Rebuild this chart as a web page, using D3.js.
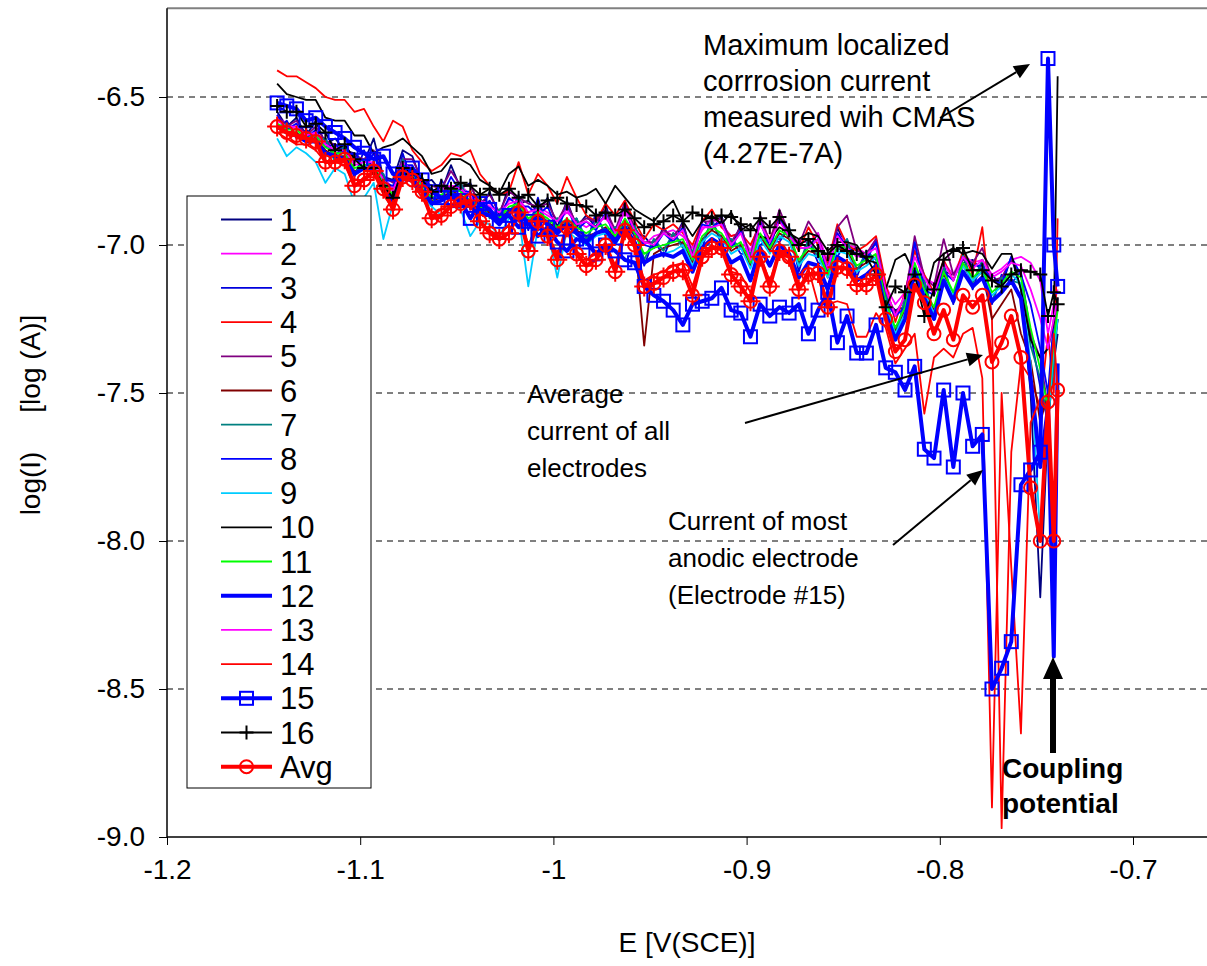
<!DOCTYPE html>
<html><head><meta charset="utf-8">
<script src="https://cdn.jsdelivr.net/npm/d3@7/dist/d3.min.js"></script>
<style>body{margin:0;background:#fff;} svg{display:block;font-family:"Liberation Sans",Arial,sans-serif;}</style>
</head><body><svg id="c" width="1207" height="966"></svg>
<script>
// ---------- DATA ----------
const E = [-1.143,-1.138,-1.133,-1.128,-1.123,-1.118,-1.113,-1.108,-1.103,-1.098,
-1.093,-1.088,-1.083,-1.078,-1.073,-1.068,-1.063,-1.058,-1.053,-1.048,
-1.043,-1.038,-1.033,-1.028,-1.023,-1.018,-1.013,-1.008,-1.003,-0.998,
-0.993,-0.988,-0.983,-0.978,-0.973,-0.968,-0.963,-0.958,-0.953,-0.948,
-0.943,-0.938,-0.933,-0.928,-0.923,-0.918,-0.913,-0.908,-0.903,-0.898,
-0.893,-0.888,-0.883,-0.878,-0.873,-0.868,-0.863,-0.858,-0.853,-0.848,
-0.843,-0.838,-0.833,-0.828,-0.823,-0.818,-0.813,-0.808,-0.803,-0.798,
-0.793,-0.788,-0.783,-0.778,-0.773,-0.768,-0.763,-0.758,-0.753,-0.748,
-0.744,-0.741,-0.739];

const s1 = [-6.55,-6.60,-6.57,-6.63,-6.58,-6.66,-6.64,-6.68,-6.69,-6.72,
-6.64,-6.77,-6.78,-6.68,-6.70,-6.79,-6.78,-6.82,-6.73,-6.81,
-6.79,-6.88,-6.82,-6.90,-6.80,-6.86,-6.85,-6.89,-6.84,-6.94,
-6.85,-6.94,-6.90,-6.94,-6.86,-6.98,-6.85,-6.96,-6.97,-7.01,
-6.94,-6.99,-6.92,-7.05,-6.91,-6.95,-6.90,-7.01,-6.93,-7.06,
-6.90,-7.01,-6.90,-6.98,-6.99,-7.01,-6.96,-7.10,-6.94,-7.02,
-7.01,-7.05,-6.98,-7.19,-7.22,-7.21,-7.00,-7.15,-7.15,-7.09,
-7.10,-7.06,-7.05,-7.09,-7.10,-7.14,-7.04,-7.15,-7.50,-8.19,
-7.60,-7.40,-7.30];
const s2 = [-6.57,-6.59,-6.61,-6.62,-6.63,-6.65,-6.67,-6.69,-6.72,-6.71,
-6.73,-6.77,-6.81,-6.73,-6.74,-6.78,-6.82,-6.81,-6.80,-6.80,
-6.83,-6.85,-6.86,-6.89,-6.85,-6.84,-6.89,-6.87,-6.89,-6.92,
-6.89,-6.92,-6.94,-6.92,-6.91,-6.95,-6.89,-6.94,-7.00,-6.97,
-6.96,-6.95,-6.97,-7.01,-6.95,-6.91,-6.93,-6.97,-6.96,-7.02,
-6.91,-6.99,-6.92,-6.96,-6.99,-6.99,-6.96,-7.06,-6.96,-7.00,
-7.01,-7.03,-6.98,-7.14,-7.20,-7.16,-7.01,-7.11,-7.13,-7.06,
-7.10,-7.03,-7.06,-7.05,-7.10,-7.08,-7.05,-7.04,-7.06,-7.12,
-7.30,-7.20,-7.15];
const s3 = [-6.61,-6.58,-6.64,-6.61,-6.64,-6.64,-6.70,-6.66,-6.77,-6.68,
-6.75,-6.76,-6.86,-6.69,-6.79,-6.77,-6.87,-6.78,-6.83,-6.79,
-6.88,-6.84,-6.90,-6.88,-6.91,-6.83,-6.95,-6.84,-6.95,-6.91,
-6.95,-6.91,-7.00,-6.89,-6.97,-6.94,-6.95,-6.93,-7.07,-6.98,
-7.04,-6.96,-7.00,-7.02,-7.01,-6.91,-7.00,-6.98,-7.03,-7.03,
-7.00,-6.98,-6.99,-6.94,-7.09,-6.98,-7.06,-7.07,-7.04,-6.98,
-7.11,-7.02,-7.07,-7.16,-7.32,-7.18,-7.10,-7.12,-7.25,-7.06,
-7.20,-7.03,-7.15,-7.05,-7.20,-7.10,-7.13,-7.09,-7.30,-7.48,
-7.60,-7.35,-7.25];
const s4 = [-6.41,-6.43,-6.43,-6.45,-6.47,-6.50,-6.51,-6.51,-6.55,-6.54,
-6.60,-6.65,-6.58,-6.60,-6.68,-6.72,-6.75,-6.73,-6.69,-6.70,
-6.68,-6.76,-6.80,-6.83,-6.82,-6.72,-6.83,-6.76,-6.80,-6.86,
-6.77,-6.84,-6.90,-6.92,-6.86,-6.90,-6.85,-6.92,-6.98,-6.93,
-6.95,-6.93,-6.96,-7.00,-6.92,-6.88,-6.94,-6.97,-6.96,-7.00,
-6.93,-6.98,-6.90,-6.96,-7.02,-6.94,-7.00,-7.06,-6.93,-7.00,
-7.02,-7.00,-6.97,-7.13,-7.26,-7.16,-7.02,-7.10,-7.16,-7.05,
-7.12,-7.02,-7.10,-6.94,-7.25,-8.97,-7.70,-7.40,-7.45,-7.55,
-7.30,-7.50,-6.91];
const s5 = [-6.56,-6.60,-6.58,-6.63,-6.60,-6.65,-6.66,-6.67,-6.70,-6.71,
-6.68,-6.77,-6.79,-6.71,-6.71,-6.78,-6.80,-6.81,-6.75,-6.80,
-6.80,-6.86,-6.83,-6.89,-6.82,-6.84,-6.86,-6.87,-6.86,-6.92,
-6.86,-6.93,-6.91,-6.92,-6.88,-6.95,-6.86,-6.94,-6.99,-6.99,
-6.95,-6.97,-6.93,-7.03,-6.92,-6.92,-6.91,-6.99,-6.94,-7.04,
-6.90,-6.99,-6.88,-6.96,-7.00,-6.92,-6.97,-7.08,-6.94,-6.90,
-7.02,-7.03,-6.98,-7.16,-7.23,-7.18,-6.97,-7.11,-7.14,-6.98,
-7.10,-7.05,-7.06,-7.01,-7.12,-7.11,-7.05,-7.10,-7.30,-7.38,
-7.55,-7.30,-7.20];
const s6 = [-6.60,-6.62,-6.62,-6.65,-6.64,-6.68,-6.70,-6.70,-6.75,-6.74,
-6.74,-6.80,-6.84,-6.74,-6.77,-6.81,-6.85,-6.84,-6.82,-6.83,
-6.86,-6.88,-6.89,-6.92,-6.88,-6.87,-6.92,-6.90,-6.92,-6.95,
-6.92,-6.95,-6.97,-6.96,-6.94,-6.98,-6.92,-6.97,-7.34,-7.03,
-7.01,-7.00,-6.99,-7.06,-6.98,-6.95,-6.97,-7.02,-7.00,-7.07,
-6.97,-7.02,-6.96,-6.98,-7.06,-7.02,-7.03,-7.11,-7.01,-7.02,
-7.08,-7.06,-7.04,-7.20,-7.29,-7.22,-7.07,-7.16,-7.22,-7.10,
-7.17,-7.07,-7.12,-7.09,-7.25,-7.20,-7.15,-7.30,-7.39,-7.60,
-7.50,-7.35,-7.25];
const s7 = [-6.60,-6.59,-6.63,-6.62,-6.65,-6.64,-6.72,-6.66,-6.76,-6.71,
-6.75,-6.76,-6.85,-6.71,-6.78,-6.77,-6.86,-6.81,-6.83,-6.79,
-6.87,-6.84,-6.91,-6.88,-6.89,-6.84,-6.93,-6.87,-6.93,-6.91,
-6.93,-6.91,-6.98,-6.92,-6.95,-6.94,-6.94,-6.93,-7.05,-6.98,
-7.02,-6.96,-7.01,-7.02,-6.99,-6.92,-6.98,-6.98,-7.01,-7.03,
-6.98,-6.98,-6.98,-6.94,-7.07,-6.98,-7.04,-7.07,-7.02,-6.98,
-7.09,-7.02,-7.05,-7.17,-7.31,-7.18,-7.08,-7.12,-7.25,-7.07,
-7.19,-7.03,-7.13,-7.05,-7.19,-7.11,-7.12,-7.13,-7.34,-7.45,
-7.60,-7.40,-7.25];
const s8 = [-6.56,-6.61,-6.59,-6.64,-6.61,-6.67,-6.66,-6.69,-6.70,-6.74,
-6.69,-6.79,-6.80,-6.73,-6.73,-6.80,-6.81,-6.84,-6.77,-6.82,
-6.82,-6.88,-6.85,-6.91,-6.84,-6.87,-6.87,-6.90,-6.87,-6.95,
-6.87,-6.95,-6.92,-6.95,-6.89,-6.98,-6.87,-6.97,-7.00,-7.01,
-6.96,-6.99,-6.94,-7.05,-6.93,-6.94,-6.92,-7.01,-6.95,-7.06,
-6.92,-7.01,-6.91,-6.97,-7.01,-7.01,-6.98,-7.10,-6.96,-7.01,
-7.03,-7.05,-6.99,-7.19,-7.24,-7.21,-6.99,-7.15,-7.17,-7.09,
-7.12,-7.04,-7.07,-7.07,-7.12,-7.13,-7.04,-7.10,-7.20,-7.35,
-7.50,-7.25,-7.18];
const s9 = [-6.64,-6.70,-6.67,-6.69,-6.72,-6.79,-6.74,-6.76,-6.86,-6.84,
-6.79,-6.98,-6.86,-6.76,-6.79,-6.84,-6.87,-6.90,-6.86,-6.88,
-6.97,-6.92,-6.93,-6.97,-6.91,-6.90,-7.14,-6.94,-6.95,-7.11,
-6.95,-6.98,-7.00,-6.97,-6.96,-7.00,-6.94,-6.99,-7.06,-7.04,
-7.03,-7.02,-7.00,-7.07,-6.99,-6.96,-6.98,-7.03,-7.01,-7.08,
-6.98,-7.03,-6.97,-6.99,-7.07,-7.03,-7.04,-7.11,-7.02,-7.03,
-7.09,-7.07,-7.04,-7.20,-7.30,-7.23,-7.07,-7.16,-7.23,-7.11,
-7.17,-7.07,-7.12,-7.09,-7.17,-7.14,-7.10,-7.13,-7.40,-7.99,
-7.60,-7.35,-7.25];
const s10 = [-6.455,-6.49,-6.50,-6.51,-6.51,-6.57,-6.58,-6.58,-6.63,-6.63,
-6.69,-6.67,-6.66,-6.64,-6.67,-6.70,-6.76,-6.75,-6.71,-6.71,
-6.73,-6.78,-6.80,-6.825,-6.76,-6.735,-6.80,-6.78,-6.80,-6.83,
-6.82,-6.84,-6.83,-6.81,-6.86,-6.80,-6.84,-6.88,-6.90,-6.92,
-6.88,-6.85,-6.92,-6.97,-6.92,-6.90,-6.93,-6.89,-6.95,-6.93,
-6.97,-6.98,-6.94,-6.96,-6.98,-6.96,-6.97,-7.02,-6.99,-6.99,
-7.00,-7.05,-7.06,-7.15,-7.05,-7.03,-7.10,-7.19,-7.06,-7.03,
-7.01,-7.03,-7.02,-7.03,-7.08,-7.03,-7.03,-7.15,-7.32,-7.38,
-7.35,-7.26,-6.43];
const s11 = [-6.59,-6.61,-6.61,-6.64,-6.63,-6.67,-6.69,-6.69,-6.74,-6.73,
-6.73,-6.79,-6.83,-6.73,-6.76,-6.80,-6.84,-6.83,-6.81,-6.82,
-6.85,-6.87,-6.88,-6.91,-6.87,-6.86,-6.91,-6.89,-6.91,-6.94,
-6.91,-6.94,-6.96,-6.94,-6.93,-6.97,-6.91,-6.96,-7.03,-7.01,
-7.00,-6.99,-6.98,-7.05,-6.97,-6.94,-6.96,-7.01,-6.99,-7.06,
-6.96,-7.01,-6.95,-6.97,-7.05,-7.01,-7.02,-7.10,-7.00,-7.01,
-7.07,-7.05,-7.03,-7.19,-7.28,-7.21,-7.06,-7.15,-7.21,-7.09,
-7.16,-7.06,-7.11,-7.08,-7.16,-7.13,-7.09,-7.11,-7.28,-7.42,
-7.55,-7.32,-7.22];
const s12 = [-6.60,-6.62,-6.63,-6.65,-6.65,-6.69,-6.70,-6.71,-6.76,-6.74,
-6.75,-6.81,-6.85,-6.75,-6.78,-6.82,-6.86,-6.85,-6.83,-6.84,
-6.87,-6.89,-6.90,-6.93,-6.89,-6.88,-6.93,-6.91,-6.93,-6.96,
-6.93,-6.96,-6.99,-6.96,-6.95,-6.99,-6.94,-6.99,-7.06,-7.04,
-7.03,-7.04,-7.02,-7.09,-7.01,-6.98,-7.00,-7.06,-7.04,-7.12,
-7.01,-7.07,-7.00,-7.03,-7.11,-7.06,-7.07,-7.15,-7.04,-7.06,
-7.12,-7.10,-7.07,-7.23,-7.32,-7.25,-7.09,-7.18,-7.25,-7.12,
-7.19,-7.09,-7.14,-7.11,-7.19,-7.16,-7.12,-7.18,-7.45,-7.75,
-7.55,-8.39,-7.40];
const s13 = [-6.58,-6.60,-6.60,-6.63,-6.62,-6.66,-6.68,-6.68,-6.73,-6.72,
-6.72,-6.78,-6.82,-6.72,-6.75,-6.79,-6.83,-6.82,-6.80,-6.81,
-6.84,-6.85,-6.87,-6.89,-6.86,-6.85,-6.89,-6.88,-6.90,-6.92,
-6.88,-6.93,-6.92,-6.94,-6.90,-6.96,-6.88,-6.95,-6.99,-7.00,
-6.96,-6.98,-6.95,-7.04,-6.94,-6.94,-6.93,-7.00,-6.96,-7.05,
-6.93,-6.99,-6.92,-6.97,-7.01,-7.01,-6.98,-7.08,-6.97,-7.01,
-7.04,-7.03,-7.01,-7.15,-7.24,-7.17,-7.04,-7.11,-7.17,-7.06,
-7.12,-7.04,-7.08,-7.05,-7.11,-7.09,-7.06,-7.07,-7.15,-7.25,
-7.35,-7.25,-7.18];
const s14 = [-6.62,-6.64,-6.66,-6.66,-6.68,-6.72,-6.72,-6.73,-6.80,-6.77,
-6.76,-6.83,-6.88,-6.77,-6.79,-6.84,-6.90,-6.88,-6.86,-6.86,
-6.87,-6.92,-6.95,-6.97,-6.93,-6.88,-7.00,-6.93,-6.96,-7.03,
-6.95,-7.02,-7.05,-7.03,-6.99,-7.07,-6.96,-7.01,-7.12,-7.10,
-7.09,-7.07,-7.06,-7.14,-7.03,-7.00,-7.02,-7.09,-7.10,-7.16,
-7.04,-7.12,-7.03,-7.06,-7.15,-7.08,-7.20,-7.20,-7.19,-7.20,
-7.31,-7.31,-7.23,-7.28,-7.40,-7.35,-7.30,-7.57,-7.38,-7.35,
-7.38,-7.30,-7.28,-7.45,-8.90,-7.50,-8.09,-8.65,-7.60,-7.52,
-7.55,-7.30,-7.49];
const s15 = [-6.52,-6.53,-6.54,-6.58,-6.57,-6.60,-6.62,-6.64,-6.67,-6.69,
-6.71,-6.70,-6.76,-6.76,-6.74,-6.78,-6.82,-6.84,-6.84,-6.85,
-6.91,-6.86,-6.88,-6.92,-6.90,-6.94,-6.92,-6.97,-6.94,-6.99,
-7.02,-6.98,-6.99,-7.03,-7.00,-7.02,-7.05,-7.06,-7.14,-7.17,
-7.19,-7.22,-7.27,-7.20,-7.19,-7.18,-7.145,-7.22,-7.23,-7.31,
-7.20,-7.24,-7.21,-7.23,-7.20,-7.30,-7.22,-7.16,-7.33,-7.24,
-7.365,-7.365,-7.27,-7.415,-7.43,-7.49,-7.41,-7.69,-7.72,-7.49,
-7.75,-7.50,-7.68,-7.64,-8.50,-8.43,-8.34,-7.81,-7.76,-7.70,
-6.37,-7.00,-7.14];
const s16 = [-6.53,-6.55,-6.55,-6.60,-6.59,-6.62,-6.68,-6.66,-6.71,-6.74,
-6.74,-6.80,-6.84,-6.74,-6.76,-6.78,-6.82,-6.80,-6.81,-6.79,
-6.80,-6.83,-6.81,-6.83,-6.81,-6.84,-6.83,-6.87,-6.85,-6.84,
-6.86,-6.865,-6.87,-6.90,-6.89,-6.90,-6.88,-6.91,-6.94,-6.93,
-6.92,-6.90,-6.92,-6.89,-6.90,-6.91,-6.90,-6.905,-6.93,-6.95,
-6.91,-6.94,-6.905,-6.95,-7.00,-6.98,-7.02,-7.03,-7.00,-7.02,
-7.03,-7.04,-7.10,-7.21,-7.14,-7.16,-7.10,-7.24,-7.15,-7.05,
-7.02,-7.01,-7.085,-7.085,-7.12,-7.14,-7.10,-7.085,-7.09,-7.10,
-7.24,-7.16,-7.20];
const avg = [-6.60,-6.62,-6.63,-6.64,-6.65,-6.72,-6.72,-6.71,-6.80,-6.78,
-6.75,-6.81,-6.88,-6.77,-6.78,-6.82,-6.91,-6.90,-6.87,-6.86,
-6.85,-6.92,-6.96,-6.98,-6.96,-6.89,-7.02,-6.92,-6.97,-7.05,
-6.94,-7.03,-7.07,-7.05,-7.00,-7.09,-6.95,-7.00,-7.14,-7.13,
-7.11,-7.09,-7.085,-7.17,-7.04,-7.01,-7.01,-7.10,-7.14,-7.19,
-7.04,-7.14,-7.02,-7.04,-7.15,-7.10,-7.095,-7.21,-7.075,-7.08,
-7.135,-7.135,-7.10,-7.25,-7.36,-7.32,-7.135,-7.195,-7.30,-7.22,
-7.32,-7.17,-7.21,-7.17,-7.395,-7.33,-7.24,-7.38,-7.82,-8.00,
-7.53,-8.00,-7.49];

const seriesNames = ["1","2","3","4","5","6","7","8","9","10","11","12","13","14","15","16","Avg"];
const xTicks = [-1.2,-1.1,-1,-0.9,-0.8,-0.7];
const xTickLabels = ["-1.2","-1.1","-1","-0.9","-0.8","-0.7"];
const yTicks = [-9,-8.5,-8,-7.5,-7,-6.5];
const yTickLabels = ["-9.0","-8.5","-8.0","-7.5","-7.0","-6.5"];
const gridValues = [-8.5,-8,-7.5,-7,-6.5];

(function(){
// ---------- STYLES ----------
const seriesData = [s1,s2,s3,s4,s5,s6,s7,s8,s9,s10,s11,s12,s13,s14,s15,s16,avg];
const colors = ["#000080","#FF00FF","#0000DD","#FF0000","#800080","#800000","#008080","#0000FF","#00CCFF","#000000","#00FF00","#0000FF","#FF00FF","#FF0000","#0000FF","#000000","#FF0000"];
const widths = [1.8,1.8,1.8,1.8,1.8,1.8,1.8,1.8,1.8,1.8,1.8,4,1.8,1.8,4,1.8,4];
const markers = [null,null,null,null,null,null,null,null,null,null,null,null,null,null,"square","plus","circle"];

const svg = d3.select("#c");
const x = d3.scaleLinear().domain([-1.2,-0.7]).range([167,1133]);
const y = d3.scaleLinear().domain([-9,-6.5]).range([837,97]);
const pL = 167, pR = 1207, pB = y(-9), pT = y(-6.2);

svg.append("g").selectAll("line").data(gridValues).join("line")
  .attr("x1",pL).attr("x2",pR).attr("y1",d=>y(d)).attr("y2",d=>y(d))
  .attr("stroke","#000").attr("stroke-width",1).attr("stroke-dasharray","6,5");

svg.append("line").attr("x1",pL).attr("x2",pR).attr("y1",pT).attr("y2",pT)
  .attr("stroke","#808080").attr("stroke-width",2);

const line = d3.line().defined(d=>d!=null).x((d,i)=>x(E[i])).y(d=>y(d));
const gS = svg.append("g");
seriesData.forEach((arr,k)=>{
  gS.append("path").datum(arr).attr("d",line).attr("fill","none")
    .attr("stroke",colors[k]).attr("stroke-width",widths[k]).attr("stroke-linejoin","round");
});
function drawMarker(g,type,cx,cy,col,idx){
  if(type==="square"){
    g.append("rect").attr("x",cx-6.5).attr("y",cy-6.5).attr("width",13).attr("height",13)
      .attr("fill","none").attr("stroke",col).attr("stroke-width",2);
  } else if(type==="plus"){
    g.append("path").attr("d",`M${cx-7},${cy}H${cx+7}M${cx},${cy-7}V${cy+7}`)
      .attr("stroke",col).attr("stroke-width",2).attr("fill","none");
  } else if(type==="circle"){
    g.append("circle").attr("cx",cx).attr("cy",cy).attr("r",6.5)
      .attr("fill","none").attr("stroke",col).attr("stroke-width",2);
    if(idx!=null && idx<=62){
      g.append("path").attr("d",`M${cx-10},${cy}H${cx+10}M${cx},${cy-10}V${cy+10}`)
        .attr("stroke",col).attr("stroke-width",2).attr("fill","none");
    }
  }
}
seriesData.forEach((arr,k)=>{
  if(!markers[k]) return;
  const g = svg.append("g");
  arr.forEach((v,i)=>{ if(v!=null) drawMarker(g,markers[k],x(E[i]),y(v),colors[k],i); });
});

const xAxis = d3.axisBottom(x).tickValues(xTicks).tickFormat((d,i)=>xTickLabels[i]).tickSize(8).tickPadding(14);
const gx = svg.append("g").attr("transform",`translate(0,${pB})`).call(xAxis);
gx.select(".domain").remove();
gx.selectAll("text").attr("font-size",28).attr("font-family","Liberation Sans, Arial, sans-serif").attr("fill","#000");
const yAxis = d3.axisLeft(y).tickValues(yTicks).tickFormat((d,i)=>yTickLabels[i]).tickSize(8).tickPadding(14);
const gy = svg.append("g").attr("transform",`translate(${pL},0)`).call(yAxis);
gy.select(".domain").remove();
gy.selectAll("text").attr("font-size",28).attr("font-family","Liberation Sans, Arial, sans-serif").attr("fill","#000");
svg.append("line").attr("x1",pL).attr("x2",pR).attr("y1",pB).attr("y2",pB).attr("stroke","#000").attr("stroke-width",1.5);
svg.append("line").attr("x1",pL).attr("x2",pL).attr("y1",pT).attr("y2",pB).attr("stroke","#000").attr("stroke-width",1.5);

svg.append("text").attr("x",687).attr("y",952).attr("text-anchor","middle").attr("font-size",28).text("E [V(SCE)]");
svg.append("text").attr("transform","translate(40,415) rotate(-90)").attr("text-anchor","middle")
  .attr("font-size",28).attr("xml:space","preserve").style("white-space","pre").text("log(I)     [log (A)]");

const lg = svg.append("g");
lg.append("rect").attr("x",187).attr("y",196).attr("width",184).attr("height",592).attr("fill","#fff").attr("stroke","#000").attr("stroke-width",1);
seriesNames.forEach((nm,k)=>{
  const cy = 219.5 + k*34.2;
  lg.append("line").attr("x1",221).attr("x2",272).attr("y1",cy).attr("y2",cy).attr("stroke",colors[k]).attr("stroke-width",widths[k]);
  if(markers[k]) drawMarker(lg,markers[k],246.5,cy,colors[k],null);
  lg.append("text").attr("x",280).attr("y",cy+11).attr("font-size",31).text(nm);
});

function arrow(x1,y1,x2,y2,w,hl,hw){
  const a=Math.atan2(y2-y1,x2-x1), c=Math.cos(a), s=Math.sin(a);
  const bx=x2-hl*c, by=y2-hl*s;
  svg.append("line").attr("x1",x1).attr("y1",y1).attr("x2",bx).attr("y2",by).attr("stroke","#000").attr("stroke-width",w);
  svg.append("path").attr("d",`M${x2},${y2}L${bx-hw*s},${by+hw*c}L${bx+hw*s},${by-hw*c}Z`).attr("fill","#000");
}
function textBlock(lines,x0,y0,dy,size,weight){
  lines.forEach((t,i)=>svg.append("text").attr("x",x0).attr("y",y0+i*dy).attr("font-size",size).attr("font-weight",weight||"normal").text(t));
}
textBlock(["Maximum localized","corrrosion current","measured wih CMAS","(4.27E-7A)"],703,55,36,29);
arrow(940,118,1030,64,2,16,7);
textBlock(["Average","current of all","electrodes"],527,403,37,26);
arrow(745,423,983,355,2,16,7);
textBlock(["Current of most","anodic electrode","(Electrode #15)"],668,530,37,26);
arrow(893,545,983,470,2,16,7);
arrow(1053,753,1053,657,6,22,10);
textBlock(["Coupling","potential"],1002,778,35,28,"bold");
})();
</script></body></html>
